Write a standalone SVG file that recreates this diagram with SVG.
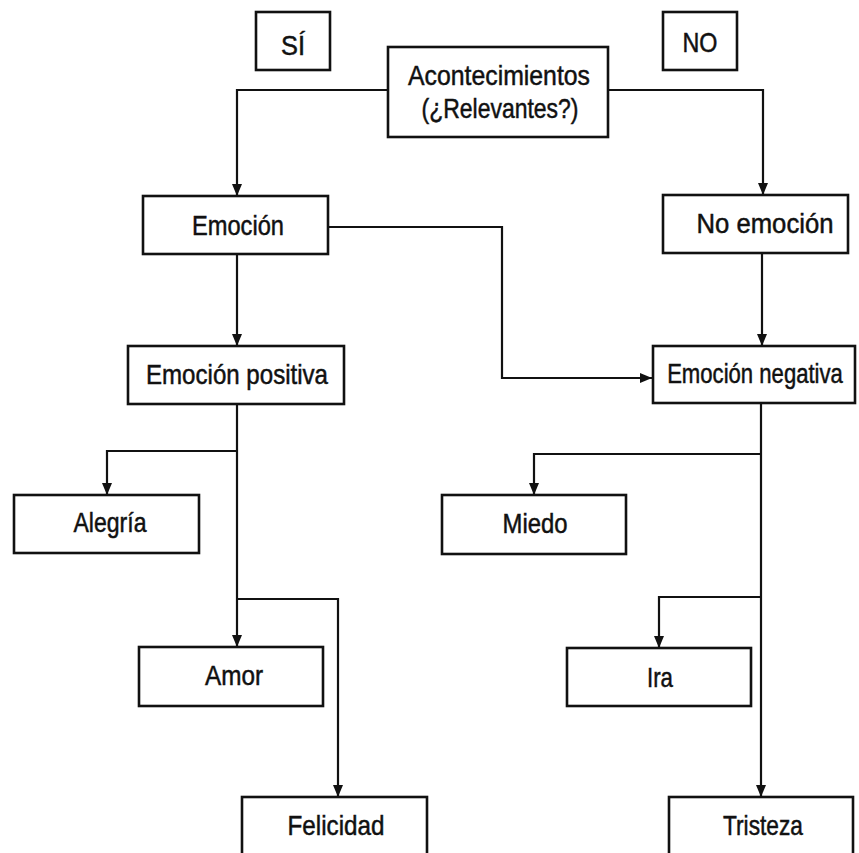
<svg xmlns="http://www.w3.org/2000/svg" width="859" height="853" viewBox="0 0 859 853">
<style>
.box{fill:#fff;stroke:#111;stroke-width:2.6}
.t{font-family:"Liberation Sans",Arial,sans-serif;font-size:28px;fill:#111;stroke:#111;stroke-width:0.5;text-anchor:middle}
.c{fill:none;stroke:#111;stroke-width:2.2}
</style>
<defs>
<marker id="ah" markerUnits="userSpaceOnUse" markerWidth="12" markerHeight="10" refX="12" refY="5" orient="auto">
<path d="M0,0 L12,5 L0,10 z" fill="#111"/>
</marker>
</defs>
<rect width="859" height="853" fill="#fff"/>
<g id="connectors">
<polyline class="c" points="388,90 237,90 237,196" marker-end="url(#ah)"/>
<polyline class="c" points="608,90 763,90 763,195" marker-end="url(#ah)"/>
<polyline class="c" points="237,254 237,346" marker-end="url(#ah)"/>
<polyline class="c" points="762,253 762,346" marker-end="url(#ah)"/>
<polyline class="c" points="328,227 502,227 502,378 652,378" marker-end="url(#ah)"/>
<polyline class="c" points="237,404 237,647" marker-end="url(#ah)"/>
<polyline class="c" points="237,451 107,451 107,495" marker-end="url(#ah)"/>
<polyline class="c" points="237,599 338,599 338,797" marker-end="url(#ah)"/>
<polyline class="c" points="761,403 761,797" marker-end="url(#ah)"/>
<polyline class="c" points="761,454 534,454 534,495" marker-end="url(#ah)"/>
<polyline class="c" points="761,597 659,597 659,648" marker-end="url(#ah)"/>
</g>
<g id="si"><rect class="box" x="256" y="12" width="74" height="58"/><text class="t" x="293" y="55" textLength="24" lengthAdjust="spacingAndGlyphs">SÍ</text></g>
<g id="no"><rect class="box" x="663" y="12" width="74" height="58"/><text class="t" x="700" y="52" textLength="35" lengthAdjust="spacingAndGlyphs">NO</text></g>
<g id="acontecimientos"><rect class="box" x="388" y="47" width="220" height="90"/>
<text class="t" x="499" y="85" textLength="182" lengthAdjust="spacingAndGlyphs">Acontecimientos</text>
<text class="t" x="500" y="118" textLength="157" lengthAdjust="spacingAndGlyphs">(¿Relevantes?)</text></g>
<g id="emocion"><rect class="box" x="143" y="196" width="185" height="58"/><text class="t" x="238" y="235" textLength="92" lengthAdjust="spacingAndGlyphs">Emoción</text></g>
<g id="no-emocion"><rect class="box" x="663" y="195" width="185" height="58"/><text class="t" x="765" y="233" textLength="137" lengthAdjust="spacingAndGlyphs">No emoción</text></g>
<g id="emocion-positiva"><rect class="box" x="128" y="346" width="216" height="58"/><text class="t" x="237" y="384" textLength="182" lengthAdjust="spacingAndGlyphs">Emoción positiva</text></g>
<g id="emocion-negativa"><rect class="box" x="653" y="346" width="202" height="57"/><text class="t" transform="translate(755,383) scale(0.79,1)" x="0" y="0">Emoción negativa</text></g>
<g id="alegria"><rect class="box" x="14" y="495" width="185" height="58"/><text class="t" x="110" y="532" textLength="73" lengthAdjust="spacingAndGlyphs">Alegría</text></g>
<g id="miedo"><rect class="box" x="442" y="495" width="184" height="59"/><text class="t" x="535" y="533" textLength="65" lengthAdjust="spacingAndGlyphs">Miedo</text></g>
<g id="amor"><rect class="box" x="139" y="647" width="184" height="59"/><text class="t" x="234" y="685" textLength="58" lengthAdjust="spacingAndGlyphs">Amor</text></g>
<g id="ira"><rect class="box" x="567" y="648" width="184" height="58"/><text class="t" x="660" y="687" textLength="26" lengthAdjust="spacingAndGlyphs">Ira</text></g>
<g id="felicidad"><rect class="box" x="242" y="797" width="185" height="70"/><text class="t" x="336" y="835" textLength="97" lengthAdjust="spacingAndGlyphs">Felicidad</text></g>
<g id="tristeza"><rect class="box" x="669" y="797" width="184" height="70"/><text class="t" x="763" y="835" textLength="80" lengthAdjust="spacingAndGlyphs">Tristeza</text></g>
</svg>
